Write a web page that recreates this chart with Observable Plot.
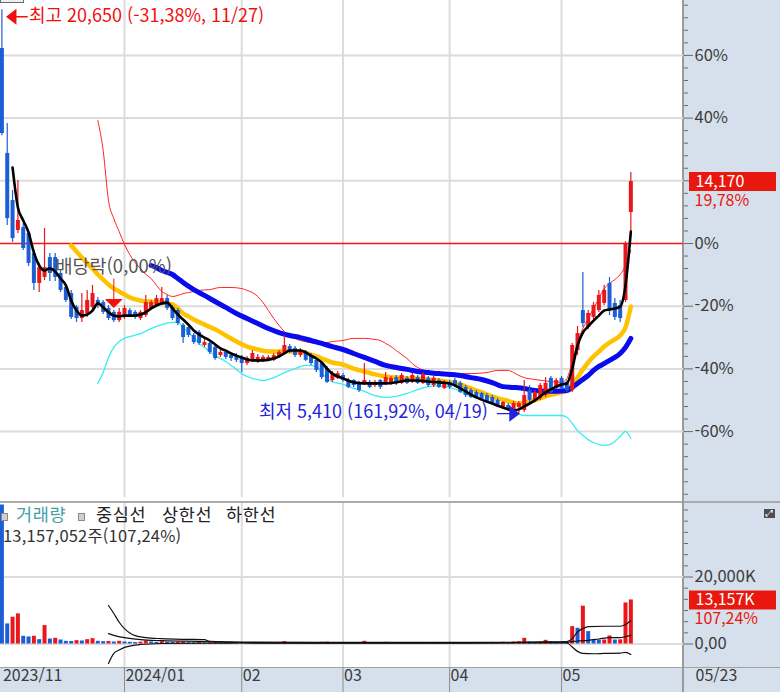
<!DOCTYPE html>
<html lang="ko">
<head>
<meta charset="utf-8">
<script src="https://cdn.jsdelivr.net/npm/d3@7"></script>
<script src="https://cdn.jsdelivr.net/npm/@observablehq/plot@0.6"></script>
<style>
html,body{margin:0;padding:0;background:#fff;}
#wrap{position:relative;width:780px;height:692px;overflow:hidden;background:#fff;font-family:"Noto Sans CJK KR","Noto Sans",sans-serif;}
.abs{position:absolute;}
.sq{width:5px;height:6px;border:1px solid #8a8a8a;background:#cfcfcf;}
.lg{font-size:17.5px;line-height:18px;white-space:nowrap;letter-spacing:0.7px;}
</style>
</head>
<body>
<div id="wrap">
  <div class="abs" style="left:683px;top:0;width:97px;height:692px;background:#d6e0ec;"></div>
  <div class="abs" style="left:0;top:667px;width:780px;height:25px;background:#d6e0ec;border-top:1px solid #a2a2a2;box-sizing:border-box;"></div>
  <div class="abs" style="left:0;top:501px;width:780px;height:2px;background:#ababab;"></div>
  <div class="abs" style="left:682px;top:0;width:2px;height:692px;background:#9a9a9a;"></div>
  <div class="abs" id="main" style="left:0;top:0;"></div>
  <div class="abs" id="vol" style="left:0;top:503px;"></div>
  <div class="abs" style="left:0;top:-9px;width:24px;height:12px;border:1px solid #6b6b6b;background:#eeeeee;box-sizing:border-box;"></div>
  <div class="abs sq" style="left:1px;top:513px;"></div>
  <div class="abs lg" style="left:16px;top:505px;color:#3f9ea6;">거래량</div>
  <div class="abs sq" style="left:78px;top:513px;"></div>
  <div class="abs lg" style="left:96px;top:505px;color:#222;">중심선</div>
  <div class="abs lg" style="left:162px;top:505px;color:#222;">상한선</div>
  <div class="abs lg" style="left:226px;top:505px;color:#222;">하한선</div>
  <div class="abs" style="left:3px;top:527px;font-size:16.5px;line-height:17px;color:#333;white-space:nowrap;letter-spacing:0.2px;">13,157,052주(107,24%)</div>
  <div class="abs" style="left:764px;top:509px;width:11px;height:9px;background:#4d4d4d;color:#fff;font-size:9px;line-height:9px;text-align:center;font-family:'DejaVu Sans',sans-serif;">⤢</div>
</div>
<script>
// ---------- DATA ----------
const dates = [
 "2023-11-27","2023-11-28","2023-11-29","2023-11-30",
 "2023-12-01","2023-12-04","2023-12-05","2023-12-06","2023-12-07","2023-12-08","2023-12-11","2023-12-12","2023-12-13","2023-12-14","2023-12-15","2023-12-18","2023-12-19","2023-12-20","2023-12-21","2023-12-22","2023-12-26","2023-12-27","2023-12-28",
 "2024-01-02","2024-01-03","2024-01-04","2024-01-05","2024-01-08","2024-01-09","2024-01-10","2024-01-11","2024-01-12","2024-01-15","2024-01-16","2024-01-17","2024-01-18","2024-01-19","2024-01-22","2024-01-23","2024-01-24","2024-01-25","2024-01-26","2024-01-29","2024-01-30","2024-01-31",
 "2024-02-01","2024-02-02","2024-02-05","2024-02-06","2024-02-07","2024-02-08","2024-02-13","2024-02-14","2024-02-15","2024-02-16","2024-02-19","2024-02-20","2024-02-21","2024-02-22","2024-02-23","2024-02-26","2024-02-27","2024-02-28","2024-02-29",
 "2024-03-04","2024-03-05","2024-03-06","2024-03-07","2024-03-08","2024-03-11","2024-03-12","2024-03-13","2024-03-14","2024-03-15","2024-03-18","2024-03-19","2024-03-20","2024-03-21","2024-03-22","2024-03-25","2024-03-26","2024-03-27","2024-03-28","2024-03-29",
 "2024-04-01","2024-04-02","2024-04-03","2024-04-04","2024-04-05","2024-04-08","2024-04-09","2024-04-11","2024-04-12","2024-04-15","2024-04-16","2024-04-17","2024-04-18","2024-04-19","2024-04-22","2024-04-23","2024-04-24","2024-04-25","2024-04-26","2024-04-29","2024-04-30",
 "2024-05-02","2024-05-03","2024-05-07","2024-05-08","2024-05-09","2024-05-10","2024-05-13","2024-05-14","2024-05-16","2024-05-17","2024-05-20","2024-05-21","2024-05-22","2024-05-23"
];
const opens = [
 19190,15230,13450,12320,12430,12210,11450,10320,10550,11300,
 11300,10700,10170,9940,9420,9000,9190,9420,9680,9600,
 9380,9230,8920,9040,9300,9230,9000,9110,9380,9490,
 9570,9750,9420,9300,8740,8660,8360,8470,7980,8060,
 7910,7600,7720,7600,7600,7530,7300,7420,7340,7420,
 7420,7420,7530,7680,7940,7870,7600,7720,7600,7420,
 7300,7110,6660,6740,6850,6660,6660,6550,6550,6590,
 6470,6660,6550,6550,6770,6550,6740,6590,6770,6550,
 6740,6470,6660,6360,6590,6660,6550,6400,6280,6210,
 6170,6090,6020,5910,5600,5720,5530,5640,5530,6280,
 5910,5980,6090,6740,6360,6740,6590,6280,7790,9300,
 8660,9040,9300,9570,10320,9570,9490,9680,13000];
const highs = [
 20650,16360,13830,14210,12580,12300,11570,11080,12400,11450,
 11450,10800,10250,10060,9490,9940,10060,10250,9790,9680,
 9490,9300,9380,9490,9380,9300,9300,9870,9680,9870,
 10170,9870,9490,9380,8810,8740,8430,8550,8210,8170,
 7980,7790,7790,7680,7680,7600,7570,7790,7640,7600,
 7600,7680,7790,8360,8020,7940,7870,7790,7680,7490,
 7380,7190,7000,7000,6920,6740,6700,6620,7300,6660,
 6660,6700,6960,6810,6850,6920,6810,6920,6850,6960,
 6810,6810,6740,6660,6660,6740,6620,6470,6360,6280,
 6210,6170,6090,5980,5870,5790,5870,5870,6660,6470,
 6280,6550,6770,6810,6740,6810,6660,8060,8700,10740,
 9300,9600,10060,10250,10550,9750,9680,11900,14510];
const lows = [
 15900,12510,11870,12210,11570,10960,10060,9980,10430,10400,
 10400,9980,9600,8960,8850,8850,9040,9230,9380,9150,
 8920,8850,8850,8960,9040,8960,8920,9040,9300,9420,
 9490,9300,8920,8730,8060,8280,8020,7980,7910,7640,
 7420,7530,7450,7380,7340,6960,7230,7340,7300,7340,
 7380,7380,7490,7640,7680,7530,7530,7380,7230,6960,
 6700,6550,6590,6700,6590,6360,6400,6210,6470,6360,
 6400,6320,6470,6470,6470,6510,6510,6550,6510,6510,
 6400,6400,6360,6320,6320,6400,6170,6020,5980,5940,
 5870,5790,5750,5680,5570,5490,5450,5410,5450,5720,
 5830,5910,6020,6170,6320,6320,6210,6210,7600,8660,
 8580,8960,9230,9490,9110,8920,8850,9600,12250];
const closes = [
 15980,12770,12020,12700,11640,11080,10320,10920,10920,10700,
 10550,10060,9680,9040,9000,9300,9680,9940,9490,9230,
 9000,8920,9230,9380,9110,9040,9230,9600,9600,9750,
 9750,9380,9000,8810,8280,8360,8090,8060,8090,7720,
 7490,7720,7530,7490,7420,7300,7490,7680,7530,7530,
 7530,7600,7720,7980,7720,7600,7790,7420,7300,7040,
 6770,6590,6920,6920,6660,6400,6470,6280,6660,6400,
 6590,6400,6770,6740,6550,6850,6550,6850,6550,6850,
 6470,6740,6400,6590,6400,6470,6210,6090,6020,5980,
 5910,5830,5790,5720,5830,5530,5790,5790,6090,5910,
 6210,6470,6550,6210,6660,6360,6280,7980,8430,8810,
 9190,9490,9870,10060,9300,9040,9000,11830,14170];
// volume in millions of shares
const volumes = [
 41.5,6.0,8.0,9.0,2.3,2.1,2.3,1.3,5.5,1.5,
 1.7,1.2,0.8,0.75,1.0,0.9,1.3,1.6,0.8,0.7,
 0.75,0.6,0.8,0.6,0.5,0.45,0.55,0.9,0.6,0.5,
 0.7,0.5,0.45,0.5,0.6,0.4,0.35,0.45,0.3,0.35,
 0.4,0.3,0.25,0.3,0.25,0.4,0.3,0.35,0.25,0.2,
 0.25,0.3,0.35,0.7,0.4,0.3,0.25,0.3,0.35,0.4,
 0.5,0.55,0.4,0.3,0.35,0.4,0.3,0.35,0.8,0.35,
 0.3,0.3,0.5,0.35,0.3,0.4,0.3,0.35,0.3,0.4,
 0.3,0.35,0.3,0.35,0.3,0.25,0.35,0.3,0.35,0.3,
 0.35,0.3,0.35,0.4,0.5,0.4,0.6,0.7,1.7,0.6,
 0.5,0.6,1.1,0.6,0.5,0.4,0.35,5.2,4.7,11.3,
 3.7,1.2,1.15,1.2,2.4,1.2,1.25,12.27,13.157052];

// indicator lines: [trading-day number, value]
const ma5 = [[2,14700],[3,13190],[4,12700],[5,12250],[6,11490],[7,11000],[8,10810],[9,10890],[10,10770],[11,10510],[12,10250],[13,9680],[14,9300],[15,9110],[16,9150],[17,9300],[18,9570],[19,9420],[20,9230],[21,9110],[22,9080],[23,9110],[25,9110],[27,9230],[28,9380],[29,9490],[30,9570],[31,9600],[32,9380],[33,9150],[34,8960],[35,8770],[36,8550],[37,8400],[38,8280],[39,8170],[40,8020],[41,7870],[42,7790],[43,7680],[44,7600],[45,7530],[47,7420],[49,7420],[51,7490],[52,7570],[53,7680],[54,7790],[56,7790],[57,7720],[58,7600],[59,7490],[60,7340],[61,7110],[62,6920],[64,6740],[66,6590],[68,6550],[70,6550],[72,6550],[74,6590],[76,6660],[78,6660],[80,6620],[82,6590],[84,6550],[85,6470],[86,6360],[87,6250],[88,6130],[90,5940],[92,5790],[94,5640],[96,5530],[97,5570],[98,5680],[100,5910],[102,6210],[104,6430],[105,6510],[106,6550],[107,7110],[108,7980],[109,8470],[110,8700],[111,8920],[112,9110],[113,9300],[114,9340],[115,9380],[116,9450],[117,10250],[118,12280]];
const ma20 = [[13,11755],[14,11530],[15,11300],[16,11080],[17,10890],[18,10660],[19,10470],[20,10280],[21,10130],[22,10020],[23,9910],[24,9790],[25,9720],[26,9680],[27,9640],[28,9640],[29,9600],[30,9600],[31,9570],[32,9530],[33,9380],[34,9190],[35,9080],[36,8960],[38,8770],[40,8590],[42,8360],[44,8130],[46,7940],[48,7830],[50,7750],[52,7750],[54,7750],[56,7750],[58,7640],[60,7490],[62,7340],[64,7260],[66,7110],[68,7000],[70,6890],[72,6810],[74,6770],[76,6740],[78,6740],[80,6700],[82,6660],[84,6590],[86,6510],[88,6360],[90,6210],[92,6060],[94,5940],[96,5830],[97,5790],[98,5830],[100,5910],[102,6060],[104,6170],[105,6210],[106,6280],[107,6510],[108,6770],[109,7080],[110,7340],[111,7570],[112,7750],[113,7940],[114,8090],[115,8210],[116,8360],[117,8660],[118,9450]];
const ma60 = [[28,11000],[29,10920],[30,10810],[31,10740],[32,10660],[33,10510],[34,10360],[36,10090],[38,9870],[40,9640],[42,9420],[44,9190],[46,9000],[48,8810],[50,8620],[52,8470],[54,8360],[56,8280],[58,8170],[60,8060],[62,7940],[64,7830],[66,7680],[68,7530],[70,7380],[72,7230],[74,7150],[76,7080],[78,7000],[80,6960],[82,6920],[84,6890],[86,6850],[88,6770],[90,6700],[92,6580],[94,6430],[96,6400],[98,6360],[100,6280],[102,6250],[104,6250],[106,6280],[107,6400],[108,6550],[109,6700],[110,6850],[111,7040],[112,7190],[113,7300],[114,7420],[115,7530],[116,7680],[117,7910],[118,8250]];
const bandUp = [[18,16470],[19,15340],[20,13450],[21,12770],[22,12280],[23,11790],[24,11410],[25,11110],[26,10890],[27,10660],[28,10510],[29,10250],[30,10020],[31,9910],[32,9830],[33,9870],[34,9940],[35,9980],[36,10020],[37,10060],[39,10090],[41,10170],[43,10170],[45,10130],[46,10060],[47,9980],[48,9830],[49,9600],[50,9300],[51,9000],[52,8740],[53,8510],[54,8360],[55,8250],[56,8170],[58,8090],[60,8060],[62,8130],[64,8170],[66,8250],[68,8250],[70,8210],[71,8170],[72,8060],[73,7940],[74,7790],[75,7640],[76,7490],[77,7300],[78,7150],[80,7000],[82,6960],[85,6920],[88,6920],[91,6960],[93,7040],[95,7040],[96,6960],[97,6850],[98,6770],[100,6700],[103,6620],[105,6590],[106,6740],[107,7340],[108,8090],[109,8620],[110,9000],[111,9380],[112,9750],[113,10130],[114,10320],[115,10470],[116,10660],[117,11000],[118,11570]];
const bandLow = [[18,6550],[19,6960],[20,7530],[21,7910],[22,8130],[23,8250],[24,8320],[26,8430],[28,8620],[30,8770],[32,8850],[33,8850],[34,8660],[35,8470],[36,8280],[37,8060],[38,7910],[40,7600],[42,7380],[44,7080],[45,6920],[46,6810],[47,6740],[49,6660],[51,6770],[53,6960],[55,7110],[57,7230],[59,7190],[60,6960],[61,6740],[62,6620],[64,6510],[66,6360],[68,6250],[70,6090],[72,6020],[74,6060],[76,6170],[78,6320],[80,6430],[82,6470],[84,6400],[86,6250],[88,6060],[90,5940],[92,5790],[94,5640],[96,5490],[97,5380],[98,5340],[100,5340],[103,5340],[105,5340],[106,5270],[107,5040],[108,4770],[109,4590],[110,4430],[111,4320],[112,4240],[113,4210],[114,4240],[115,4360],[116,4550],[117,4740],[118,4470]];
const volMid = [[20,3.1],[21,2.6],[23,1.9],[26,1.3],[30,1.0],[38,0.75],[45,0.45],[60,0.35],[80,0.35],[95,0.4],[100,0.5],[106,0.5],[107,0.7],[108,0.9],[110,1.1],[112,1.5],[114,1.9],[116,1.9],[117,2.2],[118,2.6]];
const volUp = [[20,11.5],[21,9.1],[22,6.5],[23,4.6],[24,3.3],[25,2.5],[27,1.9],[30,1.6],[34,1.4],[38,1.3],[39,0.8],[45,0.6],[60,0.5],[80,0.5],[95,0.5],[100,0.6],[106,0.7],[107,1.6],[108,3.6],[109,4.6],[110,5.2],[113,5.3],[116,5.3],[117,5.8],[118,7.0]];
const volLow = [[20,-5.8],[21,-2.8],[22,-1.8],[23,-1.0],[26,-0.15],[30,0.15],[38,0.25],[45,0.3],[60,0.25],[80,0.25],[95,0.3],[106,0.3],[107,-0.9],[108,-2.2],[109,-2.8],[111,-2.9],[113,-2.8],[116,-2.7],[117,-2.5],[118,-3.1]];

const prevClose = 11830;               // 0% reference line
const pctMajor = [-60, -40, -20, 0, 20, 40, 60, 80];
const monthTicks = [
  {date: "2023-11-27", label: "2023/11"},
  {date: "2024-01-02", label: "2024/01"},
  {date: "2024-02-01", label: "02"},
  {date: "2024-03-04", label: "03"},
  {date: "2024-04-01", label: "04"},
  {date: "2024-05-02", label: "05"}
];
const highNote = {date: "2023-11-27", price: 20650, text: "최고 20,650 (-31,38%, 11/27)"};
const lowNote = {date: "2024-04-19", price: 5410, text: "최저 5,410 (161,92%, 04/19)"};
const divNote = {date: "2023-12-27", text: "배당락(0,00%)"};
const lastPctText = "19,78%";
const lastVolText = "13,157K";
const lastVolPct = "107,24%";

// ---------- BUILD ----------
const FONT = '"Noto Sans CJK KR","Noto Sans",sans-serif';
const RED = "#e8171b", BLUE = "#1c5ed6", NOTE_BLUE = "#2323dc", BOX_RED = "#e8180e";
const days = dates.map((date, i) => ({i, date, open: opens[i], high: highs[i], low: lows[i], close: closes[i], vol: volumes[i]}));
const last = days[days.length - 1];
const idx = d => dates.indexOf(d);
const months = monthTicks.map(m => ({...m, i: idx(m.date)}));
const gridIdx = months.slice(1).map(m => m.i);
const hiA = [{...highNote, i: idx(highNote.date)}];
const loA = [{...lowNote, i: idx(lowNote.date)}];
const dvA = [{...divNote, i: idx(divNote.date), price: highs[idx(divNote.date)]}];

const xDomain = [-0.2627, 127.88];
const candleColor = d => d.close >= d.open ? RED : BLUE;
const volColor = d => (d.i === 0 || d.vol < volumes[d.i - 1]) ? BLUE : RED;
const majorTicks = pctMajor.map(p => prevClose * (1 + p / 100));
const minorTicks = d3.range(-80, 81, 4).filter(p => p % 20 !== 0 || p === -80).map(p => prevClose * (1 + p / 100));
// the label that sits under the last-price box is hidden by it in the original
const coveredByBox = v => Math.abs(v - last.close) < 1000;
const pctLabel = v => coveredByBox(v) ? "" : Math.round((v / prevClose - 1) * 100) + "%";
const volMinor = d3.range(1, 13).map(k => k * 20 / 6).filter(v => Math.abs(v - 20) > 0.01);
const volLabel = v => v === 0 ? "0,00" : d3.format(",")(v * 1000) + "K";
const px = d => d[0], py = d => d[1];

const arrowLeft = {draw(c) { c.moveTo(0, 0); c.lineTo(8.5, -6.5); c.lineTo(8.5, 6.5); c.closePath(); c.moveTo(8.5, 0); c.lineTo(20.5, 0); }};
const arrowRight = {draw(c) { c.moveTo(0, 0); c.lineTo(-9, -7); c.lineTo(-9, 7); c.closePath(); c.moveTo(-9, 0); c.lineTo(-22, 0); }};
const arrowDown = {draw(c) { c.moveTo(0, 0); c.lineTo(-8, -8); c.lineTo(8, -8); c.closePath(); c.moveTo(0, -8); c.lineTo(0, -29); }};

const gridStyle = {stroke: "#dcdcdc", strokeOpacity: 1, strokeWidth: 2};

const main = Plot.plot({
  width: 780, height: 499,
  marginTop: 0, marginRight: 97, marginBottom: 2, marginLeft: 0,
  style: {background: "transparent", fontFamily: FONT, overflow: "visible"},
  x: {domain: xDomain, axis: null, label: null},
  y: {domain: [2245, 21000], axis: null, label: null},
  marks: [
    Plot.gridX(gridIdx, gridStyle),
    Plot.gridY(majorTicks.filter(v => v !== prevClose), gridStyle),
    Plot.ruleY([prevClose], {stroke: "#ff1010", strokeWidth: 1.3}),
    Plot.line(bandUp, {x: px, y: py, stroke: "#ff2424", strokeWidth: 1, curve: "monotone-x"}),
    Plot.line(bandLow, {x: px, y: py, stroke: "#35eef0", strokeWidth: 1.3, curve: "monotone-x"}),
    Plot.line(ma20, {x: px, y: py, stroke: "#ffc200", strokeWidth: 4.5, curve: "monotone-x"}),
    Plot.line(ma60, {x: px, y: py, stroke: "#0a0aee", strokeWidth: 5, curve: "monotone-x"}),
    Plot.ruleX(days, {x: "i", y1: "low", y2: "high", stroke: candleColor, strokeWidth: 1.2, clip: true}),
    Plot.ruleX(days, {x: "i", y1: "open", y2: "close", stroke: candleColor, strokeWidth: 4, clip: true}),
    Plot.line(ma5, {x: px, y: py, stroke: "#000", strokeWidth: 2.6, curve: "monotone-x"}),
    Plot.dot(hiA, {x: "i", y: "price", symbol: arrowLeft, fill: "#f01010", stroke: "#f01010", strokeWidth: 1.5, dx: 5.3, dy: 7}),
    Plot.text(hiA, {x: "i", y: "price", text: "text", dx: 27, dy: 6.5, textAnchor: "start", fill: "#f01010", fontSize: 18}),
    Plot.dot(loA, {x: "i", y: "price", symbol: arrowRight, fill: NOTE_BLUE, stroke: NOTE_BLUE, strokeWidth: 1.2}),
    Plot.text(loA, {x: "i", y: "price", text: "text", dx: -31, dy: -1.5, textAnchor: "end", fill: NOTE_BLUE, fontSize: 18}),
    Plot.dot(dvA, {x: "i", y: "price", symbol: arrowDown, fill: "#f01010", stroke: "#f01010", strokeWidth: 1, dy: -3}),
    Plot.text(dvA, {x: "i", y: "price", text: "text", dy: -43, fill: "#555", fontSize: 18.5}),
    Plot.axisY(majorTicks, {anchor: "right", tickSize: 9, tickPadding: 2, tickFormat: pctLabel, stroke: "#6a6a6a", fill: "#3c3c3c", fontSize: 16.5, label: null}),
    Plot.axisY(minorTicks, {anchor: "right", tickSize: 4, tickFormat: () => "", stroke: "#6a6a6a", label: null}),
    Plot.ruleY([last], {y: "close", insetLeft: 689, insetRight: -93, stroke: BOX_RED, strokeWidth: 19}),
    Plot.text([last], {y: "close", frameAnchor: "right", dx: 12, text: d => d3.format(",")(d.close), fill: "white", textAnchor: "start", fontSize: 16}),
    Plot.text([last], {y: "close", frameAnchor: "right", dx: 11, dy: 19, text: () => lastPctText, fill: BOX_RED, textAnchor: "start", fontSize: 16})
  ]
});
document.getElementById("main").append(main);

const vol = Plot.plot({
  width: 780, height: 189,
  marginTop: 0, marginRight: 97, marginBottom: 25, marginLeft: 0,
  style: {background: "transparent", fontFamily: FONT, overflow: "visible"},
  x: {domain: xDomain, axis: null, label: null},
  y: {domain: [-7.01, 41.94], axis: null, label: null},
  marks: [
    Plot.gridX(gridIdx, gridStyle),
    Plot.gridY([0, 20], gridStyle),
    Plot.ruleX(days, {x: "i", y1: 0, y2: "vol", stroke: volColor, strokeWidth: 4, clip: true}),
    Plot.line(volUp, {x: px, y: py, stroke: "#111", strokeWidth: 1.2, curve: "monotone-x"}),
    Plot.line(volMid, {x: px, y: py, stroke: "#111", strokeWidth: 1.2, curve: "monotone-x"}),
    Plot.line(volLow, {x: px, y: py, stroke: "#111", strokeWidth: 1.2, curve: "monotone-x"}),
    Plot.axisY([0, 20], {anchor: "right", tickSize: 9, tickPadding: 2, tickFormat: volLabel, stroke: "#6a6a6a", fill: "#3c3c3c", fontSize: 16.5, label: null}),
    Plot.axisY(volMinor, {anchor: "right", tickSize: 4, tickFormat: () => "", stroke: "#6a6a6a", label: null}),
    Plot.ruleY([last], {y: "vol", insetLeft: 689, insetRight: -93, stroke: BOX_RED, strokeWidth: 19}),
    Plot.text([last], {y: "vol", frameAnchor: "right", dx: 12, text: () => lastVolText, fill: "white", textAnchor: "start", fontSize: 16}),
    Plot.text([last], {y: "vol", frameAnchor: "right", dx: 11, dy: 19, text: () => lastVolPct, fill: BOX_RED, textAnchor: "start", fontSize: 16}),
    Plot.axisX(gridIdx, {anchor: "bottom", tickSize: 25, tickFormat: () => "", stroke: "#8c8c8c", label: null}),
    Plot.text(months, {x: "i", frameAnchor: "bottom", dx: 1, dy: 13, text: "label", textAnchor: "start", fill: "#3c3c3c", fontSize: 16}),
    Plot.text([last], {frameAnchor: "bottom-right", dx: 12, dy: 13, text: d => d.date.slice(5).replace("-", "/"), textAnchor: "start", fill: "#3c3c3c", fontSize: 16})
  ]
});
document.getElementById("vol").append(vol);
</script>
</body>
</html>
